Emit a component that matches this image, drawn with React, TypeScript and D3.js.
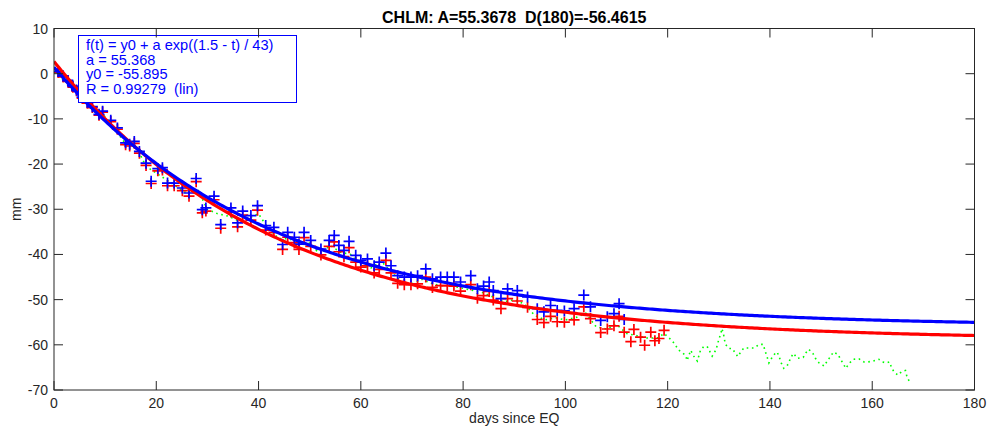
import React from "react";
import * as d3 from "d3";

const titleText = "CHLM: A=55.3678  D(180)=-56.4615";
const xTicks = [0, 20, 40, 60, 80, 100, 120, 140, 160, 180];
const yTicks = [10, 0, -10, -20, -30, -40, -50, -60, -70];
const legendLines = [
  "f(t) = y0 + a exp((1.5 - t) / 43)",
  "a = 55.368",
  "y0 = -55.895",
  "R = 0.99279  (lin)",
];

// blue fit parameters (from legend)
const blueFit = { y0: -55.895, a: 55.368, t0: 1.5, tau: 43 };
// red fit parameters (estimated)
const redFit = { y0: -58.9, a: 61.6, t0: 0, tau: 43.3 };

const blueT = [0.8, 1.8, 2.7, 3.7, 4.4, 5.5, 6.5, 7.5, 8.8, 9.5, 11.1, 12.4, 14.0, 14.8, 15.7, 16.7, 18.0, 19.0, 20.3, 21.2, 22.2, 23.5, 25.1, 26.4, 27.8, 29.0, 29.7, 31.3, 32.6, 34.6, 35.9, 36.9, 38.5, 39.8, 41.4, 43.0, 44.7, 45.7, 47.0, 47.9, 48.9, 50.2, 52.2, 53.8, 54.8, 55.7, 56.7, 57.7, 59.0, 60.0, 61.3, 62.6, 63.6, 64.9, 65.9, 67.2, 68.5, 69.8, 71.1, 72.7, 74.0, 75.6, 76.9, 78.2, 79.5, 81.5, 82.8, 84.0, 85.1, 85.9, 87.4, 88.7, 90.6, 92.6, 94.5, 95.8, 97.1, 98.4, 99.8, 101.7, 103.6, 104.9, 106.9, 108.2, 109.5, 110.5, 111.5];
const blueV = [0.5, -0.5, -1.5, -2.8, -3.6, -5.2, -6.3, -7.3, -9.0, -8.3, -10.3, -12.0, -15.3, -15.6, -15.0, -17.2, -19.8, -23.8, -21.0, -20.8, -24.2, -24.2, -25.3, -26.4, -23.2, -30.1, -29.7, -27.1, -33.4, -29.7, -33.0, -30.4, -31.4, -29.2, -33.6, -34.0, -37.8, -35.1, -36.2, -37.7, -35.1, -36.9, -38.8, -36.9, -35.8, -38.0, -39.1, -37.1, -40.2, -41.3, -41.0, -42.5, -41.7, -39.7, -42.5, -44.7, -45.0, -45.0, -44.7, -43.2, -45.4, -45.0, -45.0, -45.0, -46.1, -44.7, -47.6, -47.0, -46.1, -48.0, -49.8, -47.6, -48.0, -49.4, -52.0, -52.7, -51.3, -52.4, -52.5, -52.0, -49.0, -51.6, -54.6, -53.8, -53.1, -50.9, -54.4];

const redT = [...blueT, 112.8, 113.4, 114.7, 115.5, 116.7, 117.5, 118.3, 119.3];
const redV = [0.3, -0.7, -1.7, -3.0, -3.8, -5.4, -6.5, -7.5, -9.2, -8.5, -10.6, -12.3, -15.7, -16.0, -15.4, -17.6, -20.3, -24.3, -21.5, -21.3, -24.8, -24.8, -25.9, -27.1, -23.9, -30.8, -30.4, -27.9, -34.2, -30.6, -33.9, -31.3, -32.4, -30.2, -34.6, -35.1, -38.9, -36.2, -37.4, -38.9, -36.3, -38.2, -40.1, -38.2, -37.2, -39.4, -40.5, -38.5, -41.7, -42.8, -42.5, -44.1, -43.3, -41.3, -44.1, -46.4, -46.7, -46.7, -46.5, -45.0, -47.3, -46.9, -46.9, -47.0, -48.1, -46.7, -49.7, -49.1, -48.2, -50.1, -52.0, -49.8, -50.3, -51.7, -54.4, -55.1, -53.7, -54.9, -55.0, -54.5, -51.6, -54.2, -57.3, -56.5, -55.8, -53.7, -57.2, -59.3, -56.6, -58.3, -60.1, -57.2, -59.1, -58.6, -56.8];

const greenT = [0, 2, 4, 6, 8, 10, 12, 14, 16, 18, 20, 22, 24, 26, 28, 30, 32, 34, 36, 38, 40, 42, 44, 46, 48, 50, 52, 54, 56, 58, 60, 62, 64, 66, 68, 70, 72, 74, 76, 78, 80, 82, 84, 86, 88, 90, 92, 94, 96, 98, 100, 102, 104, 106, 108, 110, 112, 114, 116, 118,
  119.3, 120.9, 122.2, 123.5, 123.8, 124.5, 125.1, 125.8, 126.4, 127.1, 127.8, 128.3, 128.7, 129.4, 129.7, 130.0, 130.4, 130.6, 130.9, 131.1, 131.3, 132.0, 132.6, 133.3, 133.7, 134.3, 134.9, 135.9, 136.9, 137.9, 138.7, 139.0, 139.4, 139.8, 140.5, 141.1, 141.4, 141.8, 142.2, 142.7, 143.6, 144.0, 144.6, 145.4, 146.5, 147.0, 147.6, 148.4, 148.9, 149.6, 150.6, 151.3, 151.9, 152.4, 153.3, 153.8, 154.5, 154.8, 155.6, 156.3, 157.4, 158.4, 159.1, 160.2, 161.3, 162.0, 162.8, 163.4, 163.7, 164.2, 165.0, 165.8, 166.5, 166.8, 167.3];
const greenV = [0.5, -1.5, -3.5, -6, -8.5, -9.5, -12.5, -15.5, -16, -20.5, -22, -23.5, -25, -26.5, -25.5, -30, -31, -31.5, -32.5, -32, -31, -34.5, -36.5, -36.5, -38, -37.5, -40, -38, -39.5, -40, -42.5, -43, -41.5, -44, -46, -46.5, -45.5, -46.5, -47, -47, -47.5, -48, -48.5, -49.5, -50.5, -50, -51, -53.5, -54.5, -54, -54.5, -54, -53, -56, -56.5, -55.5, -57.5, -58, -58.5, -58.5,
  -57.5, -59.1, -61.2, -62.3, -63.5, -61.2, -62.5, -63.6, -61.3, -60.3, -60.5, -61.6, -62.5, -61.2, -60.1, -58.8, -57.5, -56.4, -57.5, -58.8, -59.9, -60.8, -60.8, -61.9, -62.6, -61.6, -60.7, -60.7, -60.7, -59.9, -59.9, -61.2, -62.5, -64.0, -62.6, -61.8, -61.6, -62.6, -64.0, -65.2, -64.3, -63.0, -61.9, -63.0, -62.8, -61.8, -61.0, -61.9, -63.0, -64.0, -64.7, -63.4, -62.5, -61.6, -62.1, -63.2, -64.5, -65.2, -64.0, -63.2, -63.1, -63.8, -63.8, -63.6, -63.2, -63.8, -64.0, -63.8, -64.8, -65.9, -66.7, -65.9, -65.7, -67.1, -68.2];

const W = 989;
const H = 430;
const FONT = "'Liberation Sans', Arial, Helvetica, sans-serif";
const AX = "#262626";

export default function App() {
  const x = d3.scaleLinear().domain([0, 180]).range([54, 974.5]);
  const y = d3.scaleLinear().domain([-70, 10]).range([390, 28.5]);

  const fitT = d3.range(0, 180.5, 0.5);
  const expFit = (p: { y0: number; a: number; t0: number; tau: number }) =>
    d3.line<number>().x((t) => x(t)).y((t) => y(p.y0 + p.a * Math.exp((p.t0 - t) / p.tau)))(fitT) || "";

  const greenPath = d3.line<number>().x((t) => x(t)).y((_, i) => y(greenV[i]))(greenT) || "";

  const plus = (cx: number, cy: number, color: string, key: string) => (
    <path key={key} d={`M${cx - 5.5},${cy}H${cx + 5.5}M${cx},${cy - 5.5}V${cy + 5.5}`} stroke={color} strokeWidth={1.7} fill="none" />
  );

  const [x0, x1] = x.range();
  const [yb, yt] = y.range();
  const tickLen = 9;

  return (
    <svg width={W} height={H} style={{ position: "absolute", left: 0, top: 0, background: "#fff" }} fontFamily={FONT}>
      <rect x={0} y={0} width={W} height={H} fill="#fff" />
      <defs>
        <clipPath id="plotclip">
          <rect x={x0} y={yt} width={x1 - x0} height={yb - yt} />
        </clipPath>
      </defs>
      <g clipPath="url(#plotclip)">
        <path d={greenPath} stroke="#00ff00" strokeWidth={1.6} fill="none" strokeDasharray="1.6,3.6" />
        {redT.map((t, i) => plus(x(t), y(redV[i]), "#ff0000", "r" + i))}
        {blueT.map((t, i) => plus(x(t), y(blueV[i]), "#0000ff", "b" + i))}
        <path d={expFit(redFit)} stroke="#ff0000" strokeWidth={3.2} fill="none" />
        <path d={expFit(blueFit)} stroke="#0000ff" strokeWidth={3.2} fill="none" />
      </g>

      {/* legend */}
      <rect x={78.5} y={35.5} width={218} height={67} fill="#fff" stroke="#0000ff" strokeWidth={1} />
      {legendLines.map((s, i) => (
        <text key={s} x={86} y={50 + i * 14.5} fontSize={14.6} fill="#0000ff" style={{ whiteSpace: "pre" }}>
          {s}
        </text>
      ))}

      {/* axes box */}
      <rect x={x0} y={yt} width={x1 - x0} height={yb - yt} fill="none" stroke={AX} strokeWidth={1} />
      {xTicks.map((t) => (
        <g key={"xt" + t}>
          <line x1={x(t)} x2={x(t)} y1={yb} y2={yb - tickLen} stroke={AX} />
          <line x1={x(t)} x2={x(t)} y1={yt} y2={yt + tickLen} stroke={AX} />
          <text x={x(t)} y={408} fontSize={14} textAnchor="middle" fill={AX}>
            {t}
          </text>
        </g>
      ))}
      {yTicks.map((v) => (
        <g key={"yt" + v}>
          <line x1={x0} x2={x0 + tickLen} y1={y(v)} y2={y(v)} stroke={AX} />
          <line x1={x1} x2={x1 - tickLen} y1={y(v)} y2={y(v)} stroke={AX} />
          <text x={48} y={y(v) + 5} fontSize={14} textAnchor="end" fill={AX}>
            {v}
          </text>
        </g>
      ))}
      <text x={(x0 + x1) / 2} y={423} fontSize={14} textAnchor="middle" fill={AX}>
        days since EQ
      </text>
      <text transform={`translate(21,${(yt + yb) / 2}) rotate(-90)`} fontSize={14} textAnchor="middle" fill={AX}>
        mm
      </text>
      <text x={(x0 + x1) / 2} y={22.5} fontSize={16} fontWeight="bold" textAnchor="middle" fill="#000" style={{ whiteSpace: "pre" }}>
        {titleText}
      </text>
    </svg>
  );
}
